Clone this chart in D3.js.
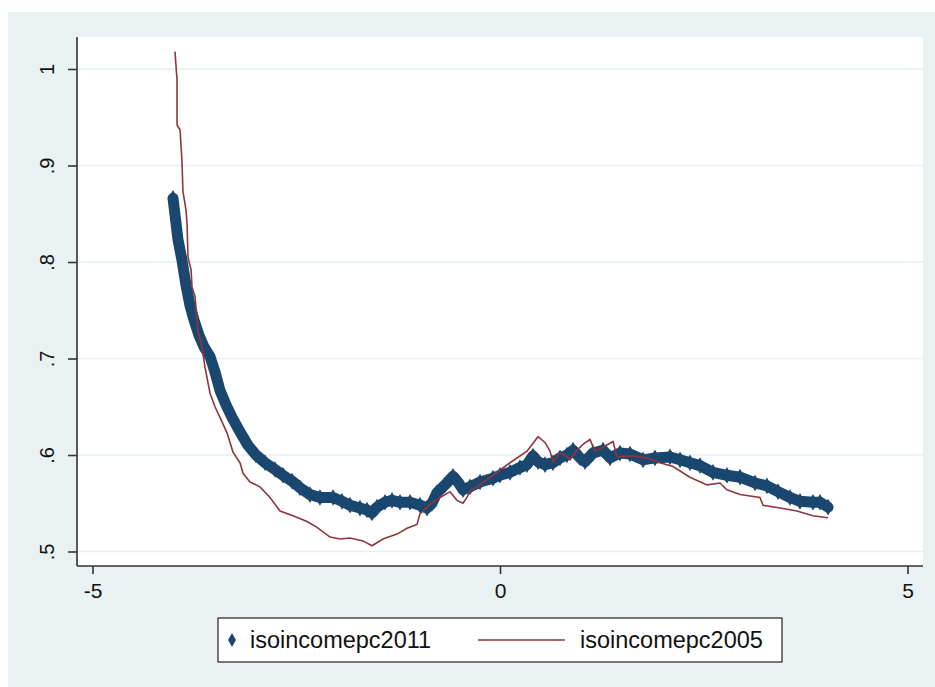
<!DOCTYPE html>
<html>
<head>
<meta charset="utf-8">
<script src="https://cdn.jsdelivr.net/npm/d3@7"></script>
<style>
  html, body { margin: 0; padding: 0; background: #ffffff; }
  svg { display: block; }
  text { font-family: "Liberation Sans", Arial, sans-serif; fill: #111; }
</style>
</head>
<body>
<svg id="chart" width="935" height="687"></svg>
<script>
// ---- data ----
const seriesNames = ["isoincomepc2011", "isoincomepc2005"];

const x2011 = [-4.012,-3.988,-3.951,-3.902,-3.853,-3.804,-3.755,-3.693,-3.632,-3.558,-3.497,-3.436,-3.362,-3.288,-3.190,-3.092,-2.994,-2.883,-2.761,-2.663,-2.552,-2.454,-2.331,-2.209,-2.049,-1.939,-1.840,-1.718,-1.632,-1.571,-1.509,-1.411,-1.325,-1.227,-1.104,-0.982,-0.896,-0.834,-0.773,-0.675,-0.577,-0.515,-0.454,-0.368,-0.245,-0.086,0.000,0.123,0.245,0.331,0.405,0.466,0.552,0.650,0.736,0.822,0.896,0.982,1.043,1.141,1.264,1.350,1.472,1.595,1.755,1.902,2.086,2.209,2.331,2.454,2.613,2.785,2.945,3.129,3.276,3.411,3.558,3.681,3.840,3.926,4.025];
const y2011 = [0.866,0.849,0.823,0.802,0.776,0.755,0.740,0.724,0.712,0.702,0.686,0.667,0.652,0.639,0.624,0.610,0.600,0.592,0.585,0.579,0.573,0.566,0.559,0.556,0.556,0.552,0.548,0.545,0.543,0.540,0.546,0.551,0.553,0.551,0.551,0.548,0.545,0.550,0.561,0.569,0.578,0.572,0.564,0.567,0.572,0.576,0.579,0.582,0.587,0.590,0.599,0.593,0.590,0.592,0.597,0.600,0.605,0.597,0.593,0.602,0.605,0.597,0.602,0.601,0.595,0.597,0.598,0.595,0.592,0.589,0.582,0.579,0.577,0.571,0.568,0.562,0.556,0.552,0.551,0.551,0.546];

const x2005 = [-3.988,-3.963,-3.963,-3.926,-3.902,-3.890,-3.853,-3.840,-3.828,-3.791,-3.779,-3.742,-3.706,-3.656,-3.620,-3.558,-3.497,-3.436,-3.350,-3.276,-3.190,-3.153,-3.067,-2.945,-2.822,-2.699,-2.540,-2.368,-2.245,-2.086,-1.963,-1.840,-1.681,-1.571,-1.436,-1.264,-1.141,-1.018,-0.982,-0.859,-0.736,-0.613,-0.528,-0.454,-0.405,-0.368,-0.282,-0.086,0.123,0.331,0.466,0.552,0.613,0.650,0.736,0.798,0.859,0.945,1.018,1.104,1.166,1.264,1.387,1.436,1.632,1.804,1.963,2.123,2.331,2.540,2.699,2.785,2.945,3.190,3.227,3.436,3.644,3.840,4.025];
const y2005 = [1.018,0.989,0.942,0.937,0.904,0.873,0.854,0.840,0.805,0.792,0.774,0.764,0.729,0.712,0.691,0.664,0.650,0.639,0.623,0.603,0.592,0.581,0.572,0.567,0.556,0.542,0.537,0.531,0.525,0.515,0.513,0.514,0.511,0.506,0.513,0.518,0.524,0.528,0.539,0.549,0.556,0.562,0.553,0.550,0.556,0.563,0.567,0.579,0.592,0.604,0.619,0.613,0.604,0.593,0.602,0.600,0.595,0.605,0.611,0.616,0.604,0.608,0.614,0.598,0.599,0.597,0.592,0.588,0.577,0.569,0.571,0.564,0.559,0.556,0.548,0.545,0.542,0.537,0.535];

const xTicks = [-5, 0, 5];
const xTickLabels = ["-5", "0", "5"];
const yTicks = [0.5, 0.6, 0.7, 0.8, 0.9, 1.0];
const yTickLabels = [".5", ".6", ".7", ".8", ".9", "1"];

// ---- layout ----
const svg = d3.select("#chart");
const W = 935, H = 687;
const plot = { left: 77, right: 923, top: 37, bottom: 566 };
const bg = "#EAF1F3";
const blue = "#1A476F";
const red = "#90353B";
const font = "Liberation Sans, Arial, sans-serif";

svg.append("rect").attr("x", 8).attr("y", 12).attr("width", W - 8).attr("height", H - 12).attr("fill", bg);
svg.append("rect").attr("x", plot.left).attr("y", plot.top)
   .attr("width", plot.right - plot.left).attr("height", plot.bottom - plot.top).attr("fill", "#ffffff");

const x = d3.scaleLinear().domain([-5, 5]).range([500 - 5 * 81.5, 500 + 5 * 81.5]);
const y = d3.scaleLinear().domain([0.5, 1.0]).range([551.5, 551.5 - 0.5 * 965]);

// gridlines
svg.append("g").selectAll("line").data(yTicks).join("line")
  .attr("x1", plot.left).attr("x2", plot.right)
  .attr("y1", d => y(d)).attr("y2", d => y(d))
  .attr("stroke", "#E6EFF1").attr("stroke-width", 1.6);

// series
svg.append("clipPath").attr("id", "clip").append("rect")
  .attr("x", plot.left).attr("y", plot.top).attr("width", plot.right - plot.left).attr("height", plot.bottom - plot.top);

const d2011 = x2011.map((v, i) => [v, y2011[i]]);
const d2005 = x2005.map((v, i) => [v, y2005[i]]);
const line = d3.line().x(d => x(d[0])).y(d => y(d[1]));

const g = svg.append("g").attr("clip-path", "url(#clip)");
g.append("path").datum(d2011).attr("d", line)
  .attr("fill", "none").attr("stroke", blue).attr("stroke-width", 11)
  .attr("stroke-linejoin", "round").attr("stroke-linecap", "round");
g.append("g").selectAll("path").data(d2011).join("path")
  .attr("transform", d => `translate(${x(d[0])},${y(d[1])})`)
  .attr("d", d3.symbol(d3.symbolDiamond, 80)())
  .attr("fill", blue);
g.append("path").datum(d2005).attr("d", line)
  .attr("fill", "none").attr("stroke", red).attr("stroke-width", 1.6)
  .attr("stroke-linejoin", "miter");

// axes
const xAxis = d3.axisBottom(x).tickValues(xTicks).tickFormat((d, i) => xTickLabels[i]).tickSize(8).tickSizeOuter(0);
const gx = svg.append("g").attr("transform", `translate(0,${plot.bottom})`).call(xAxis);
gx.select(".domain").attr("d", `M${plot.left},0H${plot.right}`).attr("stroke", "#333").attr("stroke-width", 1.6);
gx.selectAll(".tick line").attr("stroke", "#333").attr("stroke-width", 1.6);
gx.selectAll(".tick text").attr("y", 17).attr("font-size", 21).attr("font-family", font).attr("fill", "#111");

const yAxis = d3.axisLeft(y).tickValues(yTicks).tickFormat((d, i) => yTickLabels[i]).tickSize(9).tickSizeOuter(0);
const gy = svg.append("g").attr("transform", `translate(${plot.left},0)`).call(yAxis);
gy.select(".domain").attr("d", `M0,${plot.top}V${plot.bottom}`).attr("stroke", "#333").attr("stroke-width", 1.6);
gy.selectAll(".tick line").attr("stroke", "#333").attr("stroke-width", 1.6);
gy.selectAll(".tick text")
  .attr("x", null).attr("dy", null)
  .attr("transform", "translate(-30,0) rotate(-90)")
  .attr("text-anchor", "middle").attr("dominant-baseline", "central")
  .attr("font-size", 20).attr("font-family", font).attr("fill", "#111");

// legend
const lg = svg.append("g");
lg.append("rect").attr("x", 218).attr("y", 618).attr("width", 564).attr("height", 44)
  .attr("fill", "#ffffff").attr("stroke", "#222").attr("stroke-width", 1.2);
lg.append("path").attr("transform", "translate(232,640)").attr("d", d3.symbol(d3.symbolDiamond, 55)()).attr("fill", blue);
lg.append("text").attr("x", 250).attr("y", 648).attr("font-size", 23.5).text(seriesNames[0]);
lg.append("line").attr("x1", 478).attr("x2", 565).attr("y1", 640).attr("y2", 640).attr("stroke", red).attr("stroke-width", 1.6);
lg.append("text").attr("x", 580).attr("y", 648).attr("font-size", 23.5).text(seriesNames[1]);
</script>
</body>
</html>
